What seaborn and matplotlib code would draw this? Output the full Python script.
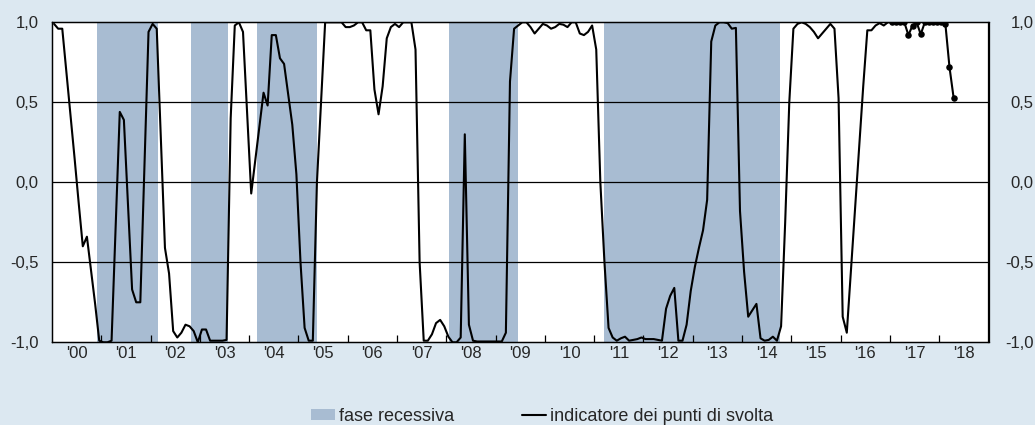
"""
Indicatore dei punti di svolta vs fasi recessive (2000-2018)
"""

import numpy as np
import matplotlib
matplotlib.use("Agg")
import matplotlib.pyplot as plt
import seaborn as sns
from matplotlib.patches import Patch
from matplotlib.lines import Line2D

# monthly values of the turning-point indicator, Jan 2000 - Apr 2018
y2000 = [0.99, 0.96, 0.96, 0.69, 0.42, 0.15, -0.13, -0.40, -0.34, -0.55, -0.76, -0.99]
y2001 = [-1.0, -1.0, -0.99, -0.28, 0.44, 0.39, -0.14, -0.67, -0.75, -0.75, 0.10, 0.94]
y2002 = [0.99, 0.96, 0.28, -0.41, -0.57, -0.93, -0.97, -0.94, -0.89, -0.90, -0.93, -1.0]
y2003 = [-0.92, -0.92, -0.99, -0.99, -0.99, -0.99, -0.985, 0.40, 0.98, 1.0, 0.94, 0.43]
y2004 = [-0.07, 0.14, 0.35, 0.56, 0.48, 0.92, 0.92, 0.775, 0.74, 0.55, 0.36, 0.05]
y2005 = [-0.50, -0.91, -0.99, -0.99, 0.0, 0.50, 1.0, 1.0, 1.0, 1.0, 1.0, 0.97]
y2006 = [0.97, 0.98, 1.0, 1.0, 0.95, 0.95, 0.58, 0.425, 0.60, 0.90, 0.97, 0.99]
y2007 = [0.97, 1.0, 1.0, 1.0, 0.83, -0.50, -0.99, -0.99, -0.95, -0.88, -0.86, -0.90]
y2008 = [-0.965, -1.0, -1.0, -0.97, 0.30, -0.89, -0.99, -0.995, -0.995, -0.995, -0.995, -0.995]
y2009 = [-0.995, -0.995, -0.94, 0.63, 0.96, 0.98, 1.0, 1.0, 0.97, 0.93, 0.96, 0.99]
y2010 = [0.98, 0.96, 0.97, 0.99, 0.985, 0.97, 1.0, 1.0, 0.93, 0.92, 0.94, 0.98]
y2011 = [0.83, 0.0, -0.50, -0.91, -0.97, -0.99, -0.975, -0.965, -0.99, -0.985, -0.98, -0.97]
y2012 = [-0.98, -0.98, -0.98, -0.985, -0.99, -0.79, -0.71, -0.66, -0.99, -0.99, -0.89, -0.68]
y2013 = [-0.53, -0.41, -0.30, -0.11, 0.88, 0.98, 1.0, 1.0, 0.995, 0.96, 0.965, -0.18]
y2014 = [-0.56, -0.84, -0.80, -0.76, -0.975, -0.99, -0.985, -0.965, -0.99, -0.90, -0.25, 0.50]
y2015 = [0.96, 0.99, 1.0, 0.99, 0.97, 0.94, 0.90, 0.93, 0.96, 0.99, 0.96, 0.525]
y2016 = [-0.84, -0.94, -0.56, -0.17, 0.22, 0.60, 0.95, 0.95, 0.98, 0.995, 0.98, 1.0]
y2017 = [1.0, 1.0, 1.0, 1.0, 0.92, 0.98, 1.0, 0.925, 1.0, 1.0, 1.0, 1.0]
y2018 = [1.0, 0.99, 0.72, 0.53]

# months from Jan 2017 onwards are shown with markers
first_marked = 204

# recession phases (decimal years)
rec_start = [2000.91, 2002.82, 2004.15, 2008.05, 2011.19]
rec_end = [2002.155, 2003.57, 2005.38, 2009.45, 2014.76]

year_labels = ["'00", "'01", "'02", "'03", "'04", "'05", "'06", "'07", "'08", "'09",
               "'10", "'11", "'12", "'13", "'14", "'15", "'16", "'17", "'18"]
y_ticks = [-1.0, -0.5, 0.0, 0.5, 1.0]
y_labels = ["-1,0", "-0,5", "0,0", "0,5", "1,0"]

bg_color = "#dce8f1"
band_color = "#a8bcd2"

sns.set_style("white")
plt.rcParams['font.family'] = ['Liberation Sans', 'DejaVu Sans']

values = np.array(y2000 + y2001 + y2002 + y2003 + y2004 + y2005 + y2006 + y2007 + y2008
                  + y2009 + y2010 + y2011 + y2012 + y2013 + y2014 + y2015 + y2016
                  + y2017 + y2018)
dates = 2000 + (np.arange(len(values)) + 0.5) / 12

fig = plt.figure(figsize=(10.35, 4.25), dpi=100, facecolor=bg_color)
ax = fig.add_axes([52 / 1035, 1 - 342.3 / 425, 936.5 / 1035, 320 / 425])
ax.set_facecolor("white")

for s, e in zip(rec_start, rec_end):
    ax.axvspan(s, e, color=band_color, lw=0, zorder=0)

for yv in y_ticks[1:-1]:
    ax.axhline(yv, color="black", lw=0.9, zorder=1)

sns.lineplot(x=dates, y=values, color="black", lw=1.5, ax=ax, zorder=3)
sns.scatterplot(x=dates[first_marked:], y=values[first_marked:], color="black",
                s=22, edgecolor="black", linewidth=0, ax=ax, zorder=4)

ax.set_xlim(2000, 2019)
ax.set_ylim(-1, 1)

# year boundaries as small inward ticks, labels centred on each year
ax.set_xticks(np.arange(2001, 2019))
ax.set_xticklabels([])
ax.set_xticks(np.arange(2000, 2019) + 0.5, minor=True)
ax.set_xticklabels(year_labels, minor=True)
ax.tick_params(axis="x", which="major", direction="in", length=5, width=0.9,
               color="black", bottom=True)
ax.tick_params(axis="x", which="minor", length=0, pad=3, labelsize=12)

ax.set_yticks(y_ticks)
ax.set_yticklabels(y_labels)
ax.tick_params(axis="y", length=0, pad=9.5, labelsize=12, left=False)

# right-hand labels, right-aligned near the figure edge
ax2 = ax.twinx()
ax2.set_ylim(-1, 1)
ax2.set_yticks(y_ticks)
ax2.set_yticklabels(y_labels)
ax2.tick_params(axis="y", length=0, pad=32.5, labelsize=12, right=False)
for lab in ax2.get_yticklabels():
    lab.set_horizontalalignment("right")

for a in (ax, ax2):
    for sp in a.spines.values():
        sp.set_color("black")
        sp.set_linewidth(0.9)
        sp.set_visible(True)
    a.set_xlabel("")
    a.set_ylabel("")

handles = [Patch(facecolor=band_color, edgecolor="none", label="fase recessiva"),
           Line2D([0], [0], color="black", lw=1.5, label="indicatore dei punti di svolta")]
fig.legend(handles=handles, loc="center", bbox_to_anchor=(542 / 1035, 1 - 416.5 / 425),
           ncol=2, frameon=False, fontsize=13, handlelength=1.33, handleheight=0.52,
           handletextpad=0.22, columnspacing=3.8, borderpad=0)

fig.savefig("out.png", dpi=100, facecolor=bg_color)
plt.close(fig)
